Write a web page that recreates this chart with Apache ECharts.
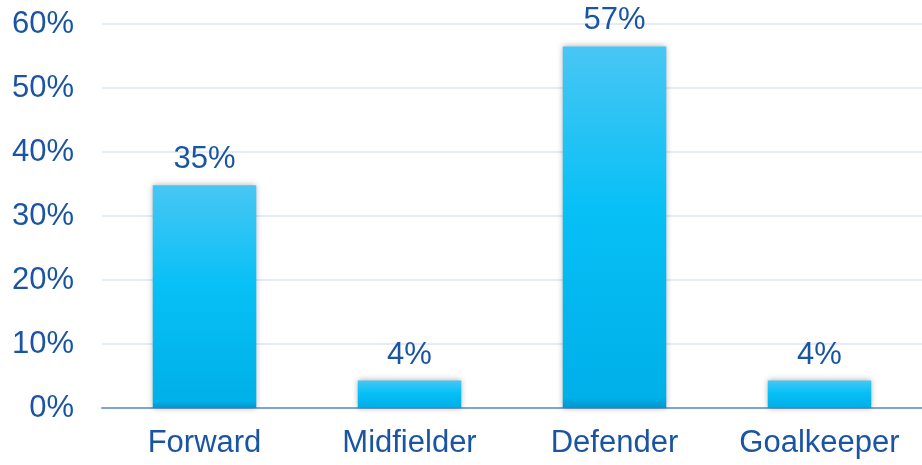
<!DOCTYPE html>
<html>
<head>
<meta charset="utf-8">
<script src="https://cdn.jsdelivr.net/npm/echarts@6/dist/echarts.min.js"></script>
<style>
  html, body { margin: 0; padding: 0; background: #fff; }
  #chart { width: 922px; height: 465px; }
</style>
</head>
<body>
<div id="chart"></div>
<script>
// positions and their share of players (%)
const categories = ['Forward', 'Midfielder', 'Defender', 'Goalkeeper'];
const shares = [34.8, 4.3, 56.5, 4.3];
const yTicks = [0, 10, 20, 30, 40, 50, 60];

const textColor = '#1a55a3';
const font = 'Liberation Sans, Arial, sans-serif';

const chart = echarts.init(document.getElementById('chart'));
chart.setOption({
  animation: false,
  grid: { left: 102, right: -3, top: 24, bottom: 57, containLabel: false },
  xAxis: {
    type: 'category',
    data: categories,
    axisLine: { lineStyle: { color: '#7ca5d6', width: 2 } },
    axisTick: { show: false },
    axisLabel: { color: textColor, fontSize: 31, fontFamily: font, margin: 20, interval: 0, hideOverlap: false }
  },
  yAxis: {
    type: 'value',
    min: yTicks[0],
    max: yTicks[yTicks.length - 1],
    interval: 10,
    axisLine: { show: false },
    axisTick: { show: false },
    splitLine: { lineStyle: { color: '#e4edf7', width: 2 } },
    axisLabel: { color: textColor, fontSize: 31, fontFamily: font, margin: 28, formatter: '{value}%' }
  },
  series: [{
    type: 'bar',
    data: shares,
    barWidth: '50.5%',
    itemStyle: {
      color: new echarts.graphic.LinearGradient(0, 0, 0, 1, [
        { offset: 0, color: '#48c6f4' },
        { offset: 0.45, color: '#07c0f6' },
        { offset: 0.97, color: '#00b0e8' },
        { offset: 1, color: '#0096d0' }
      ]),
      shadowColor: 'rgba(0,0,0,0.3)',
      shadowBlur: 6
    },
    label: {
      show: true,
      position: 'top',
      distance: 10,
      color: textColor,
      fontSize: 31,
      fontFamily: font,
      formatter: p => Math.round(p.value) + '%'
    }
  }]
});
</script>
</body>
</html>
